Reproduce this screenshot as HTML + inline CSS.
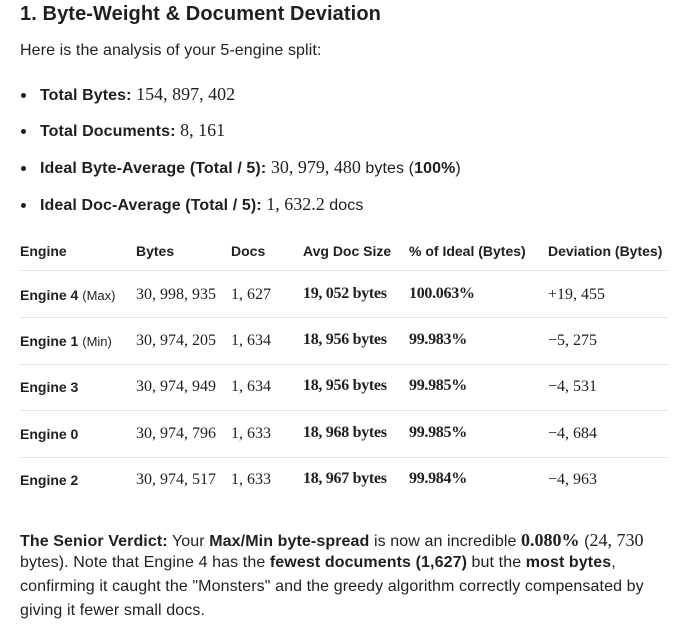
<!DOCTYPE html>
<html><head><meta charset="utf-8"><style>
body{margin:0;background:#fff;width:699px;height:633px;overflow:hidden;font-family:"Liberation Sans",sans-serif;color:#1f1f1f;position:relative}
.a{position:absolute;white-space:nowrap}
.s{font-family:"Liberation Serif",serif;font-size:16px}
.b{font-weight:bold}
h1{position:absolute;left:20px;top:3px;margin:0;font-size:20px;font-weight:bold;letter-spacing:0.1px}
.t{font-size:16px;letter-spacing:0.1px}
.t .s{font-size:18px;letter-spacing:0}
.dot{position:absolute;left:21px;width:5px;height:5px;border-radius:50%;background:#1f1f1f}
.line{position:absolute;left:20px;width:648px;height:1px;background:#e3e3e3}
.h{font-size:14px;font-weight:bold}
.e{font-size:14px;font-weight:bold}
.e span{font-weight:normal;font-size:13px}
.v{font-size:16px;font-weight:bold;letter-spacing:-0.3px}
</style></head><body>
<h1>1. Byte-Weight &amp; Document Deviation</h1>
<div class="a t" style="left:20px;top:42px">Here is the analysis of your 5-engine split:</div>
<div class="dot" style="top:93px"></div><div class="a t" style="left:40px;top:84px"><b>Total Bytes:</b> <span class="s">154, 897, 402</span></div>
<div class="dot" style="top:129px"></div><div class="a t" style="left:40px;top:120px"><b>Total Documents:</b> <span class="s">8, 161</span></div>
<div class="dot" style="top:166px"></div><div class="a t" style="left:40px;top:157px"><b>Ideal Byte-Average (Total / 5):</b> <span class="s">30, 979, 480</span> bytes (<b>100%</b>)</div>
<div class="dot" style="top:203px"></div><div class="a t" style="left:40px;top:194px"><b>Ideal Doc-Average (Total / 5):</b> <span class="s">1, 632.2</span> docs</div>

<div class="a h" style="left:20px;top:243px">Engine</div>
<div class="a h" style="left:136px;top:243px">Bytes</div>
<div class="a h" style="left:231px;top:243px">Docs</div>
<div class="a h" style="left:303px;top:243px">Avg Doc Size</div>
<div class="a h" style="left:409px;top:243px">% of Ideal (Bytes)</div>
<div class="a h" style="left:548px;top:243px">Deviation (Bytes)</div>
<div class="line" style="top:270px"></div>
<div class="line" style="top:317px"></div>
<div class="line" style="top:364px"></div>
<div class="line" style="top:410px"></div>
<div class="line" style="top:457px"></div>

<div class="a e" style="left:20px;top:287px">Engine 4 <span>(Max)</span></div>
<div class="a s" style="left:136px;top:286px">30, 998, 935</div><div class="a s" style="left:231px;top:286px">1, 627</div>
<div class="a s v" style="left:303px;top:285px">19, 052 bytes</div><div class="a s v" style="left:409px;top:285px">100.063%</div><div class="a s" style="left:548px;top:286px">+19, 455</div>

<div class="a e" style="left:20px;top:333px">Engine 1 <span>(Min)</span></div>
<div class="a s" style="left:136px;top:332px">30, 974, 205</div><div class="a s" style="left:231px;top:332px">1, 634</div>
<div class="a s v" style="left:303px;top:331px">18, 956 bytes</div><div class="a s v" style="left:409px;top:331px">99.983%</div><div class="a s" style="left:548px;top:332px">−5, 275</div>

<div class="a e" style="left:20px;top:379px">Engine 3</div>
<div class="a s" style="left:136px;top:378px">30, 974, 949</div><div class="a s" style="left:231px;top:378px">1, 634</div>
<div class="a s v" style="left:303px;top:377px">18, 956 bytes</div><div class="a s v" style="left:409px;top:377px">99.985%</div><div class="a s" style="left:548px;top:378px">−4, 531</div>

<div class="a e" style="left:20px;top:426px">Engine 0</div>
<div class="a s" style="left:136px;top:425px">30, 974, 796</div><div class="a s" style="left:231px;top:425px">1, 633</div>
<div class="a s v" style="left:303px;top:424px">18, 968 bytes</div><div class="a s v" style="left:409px;top:424px">99.985%</div><div class="a s" style="left:548px;top:425px">−4, 684</div>

<div class="a e" style="left:20px;top:472px">Engine 2</div>
<div class="a s" style="left:136px;top:471px">30, 974, 517</div><div class="a s" style="left:231px;top:471px">1, 633</div>
<div class="a s v" style="left:303px;top:470px">18, 967 bytes</div><div class="a s v" style="left:409px;top:470px">99.984%</div><div class="a s" style="left:548px;top:471px">−4, 963</div>

<div class="a t" style="left:20px;top:530px"><b>The Senior Verdict:</b> Your <b>Max/Min byte-spread</b> is now an incredible <b class="s">0.080%</b> (<span class="s">24, 730</span></div>
<div class="a t" style="left:20px;top:554px">bytes). Note that Engine 4 has the <b>fewest documents (1,627)</b> but the <b>most bytes</b>,</div>
<div class="a t" style="left:20px;top:578px">confirming it caught the "Monsters" and the greedy algorithm correctly compensated by</div>
<div class="a t" style="left:20px;top:602px">giving it fewer small docs.</div>
</body></html>
